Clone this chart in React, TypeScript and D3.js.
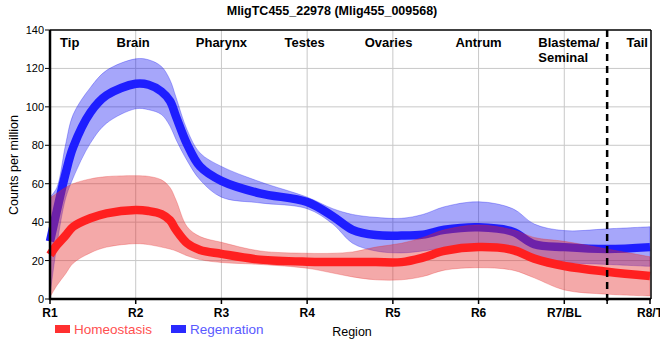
import React from "react";
import * as d3 from "d3";

const title = "MligTC455_22978 (Mlig455_009568)";
const tickLabels = ["R1", "R2", "R3", "R4", "R5", "R6", "R7/BL", "R8/T"];
const yTicks = [0, 20, 40, 60, 80, 100, 120, 140];
const regionNames = ["Tip", "Brain", "Pharynx", "Testes", "Ovaries", "Antrum", "Blastema/\nSeminal", "Tail"];
const regionPos = [0.23, 0.97, 2.0, 2.97, 3.95, 5.0, 5.72, 6.85];
const dividerPos = 6.5;

const pos = [0, 0.08, 0.18, 0.27, 0.47, 0.66, 1.0, 1.15, 1.3, 1.4, 1.47, 1.6, 1.75, 2.0, 2.45, 3.0, 3.3, 3.53, 3.8, 4.1, 4.35, 4.6, 5.0, 5.4, 5.65, 6.0, 6.5, 7.0];

const regenMean = [30, 46, 65, 79, 97, 106, 112, 111.5, 108, 103, 95, 80.5, 69, 61.5, 55, 50.5, 43, 36, 33.3, 33, 33.5, 36, 37.3, 35, 28.5, 27, 26, 27];
const regenUpper = [53, 58, 80, 96, 110, 119, 125, 124.5, 121, 114, 105, 88, 76, 69, 61, 53, 47, 44, 42.5, 42, 44, 48, 50.6, 47, 39, 35.6, 36.5, 37.6];
const regenLower = [2, 28, 52, 63, 81, 91.5, 99, 98.5, 96, 90, 83, 72, 62, 53, 50, 47, 39, 29, 25, 24, 25, 26.5, 27, 25, 21, 19, 18, 17];

const homeoMean = [23, 28, 33, 37.6, 42, 44.6, 46.3, 45.8, 44.2, 41, 36, 29, 25.5, 23.5, 20.5, 19.4, 19.3, 19.2, 19.2, 19.2, 21.5, 25, 27, 25.5, 21, 17.2, 14.2, 12];
const homeoUpper = [52.6, 55, 58, 60, 62.5, 63.7, 64.2, 63.8, 62, 58, 51.5, 37.6, 32.5, 29.5, 25, 23.8, 23.8, 24.5, 27, 29, 32, 36, 38.5, 36, 32, 30, 26, 22];
const homeoLower = [1, 7, 13, 18.6, 24, 27, 28.8, 28.3, 27, 26, 25, 22.5, 20.5, 19, 18, 16, 13.5, 11.5, 10, 10, 11.7, 15, 16.3, 15, 11, 4.7, 2.5, 1.6];

const legendItems = ["Homeostasis", "Regenration"];

const W = 660;
const H = 360;
const left = 50;
const right = 650;
const top = 30;
const bottom = 299;
const font = "'Liberation Sans', Arial, sans-serif";

export default function App() {
  const x = d3.scaleLinear().domain([0, 7]).range([left, right]);
  const y = d3.scaleLinear().domain([0, 140]).range([bottom, top]);
  const curve = d3.curveCatmullRom.alpha(0.5);

  const line = (vals: number[]) =>
    d3.line<number>().x((_, i) => x(pos[i])).y((v) => y(v)).curve(curve)(vals) || "";
  const band = (lo: number[], hi: number[]) =>
    d3
      .area<number>()
      .x((_, i) => x(pos[i]))
      .y0((_, i) => y(lo[i]))
      .y1((_, i) => y(hi[i]))
      .curve(curve)(pos) || "";

  return (
    <svg width={W} height={H} style={{ position: "absolute", left: 0, top: 0, background: "#fff" }} fontFamily={font}>
      <text x={332} y={15} textAnchor="middle" fontWeight="bold" fontSize={12.5}>
        {title}
      </text>
      {/* grid */}
      {yTicks.slice(1, -1).map((t) => (
        <line key={"gy" + t} x1={left} x2={right} y1={y(t)} y2={y(t)} stroke="#c8c8c8" strokeWidth={1} />
      ))}
      {tickLabels.slice(1, -1).map((_, i) => (
        <line key={"gx" + i} x1={x(i + 1)} x2={x(i + 1)} y1={top} y2={bottom} stroke="#c8c8c8" strokeWidth={1} />
      ))}
      {/* Regeneration */}
      <path d={band(regenLower, regenUpper)} fill="rgba(0,0,240,0.35)" stroke="rgba(0,0,240,0.35)" strokeWidth={0.8} />
      <path d={line(regenMean)} fill="none" stroke="#1e1eff" strokeWidth={8.5} />
      {/* Homeostasis */}
      <path d={band(homeoLower, homeoUpper)} fill="rgba(228,40,40,0.4)" stroke="rgba(228,40,40,0.35)" strokeWidth={0.8} />
      <path d={line(homeoMean)} fill="none" stroke="#ff2020" strokeWidth={8.5} />
      {/* divider */}
      <line x1={x(dividerPos)} x2={x(dividerPos)} y1={top} y2={bottom + 5} stroke="#000" strokeWidth={2.5} strokeDasharray="7,5" />
      {/* frame */}
      <line x1={left} x2={right + 1} y1={top} y2={top} stroke="#000" strokeWidth={1.5} />
      <line x1={right + 1} x2={right + 1} y1={top} y2={bottom} stroke="#000" strokeWidth={1.5} />
      <line x1={left} x2={left} y1={top} y2={bottom + 1} stroke="#000" strokeWidth={2.5} />
      <line x1={left - 1} x2={right + 1} y1={bottom} y2={bottom} stroke="#000" strokeWidth={2.5} />
      {/* y ticks */}
      {yTicks.map((t) => (
        <g key={"yt" + t}>
          <line x1={left - 5} x2={left} y1={y(t)} y2={y(t)} stroke="#000" strokeWidth={1} />
          <text x={left - 6} y={y(t) + 4} textAnchor="end" fontSize={11}>
            {t}
          </text>
        </g>
      ))}
      {/* x ticks */}
      {tickLabels.map((l, i) => (
        <g key={"xt" + i}>
          <line x1={x(i)} x2={x(i)} y1={bottom} y2={bottom + 5} stroke="#000" strokeWidth={1.5} />
          <text x={x(i)} y={317} textAnchor="middle" fontSize={12} fontWeight="bold">
            {l}
          </text>
        </g>
      ))}
      <line x1={x(dividerPos)} x2={x(dividerPos)} y1={bottom} y2={bottom + 5} stroke="#000" strokeWidth={1.5} />
      {/* region labels */}
      {regionNames.map((n, i) => {
        const lines = n.split("\n");
        const anchor = lines.length > 1 ? "start" : "middle";
        const px = lines.length > 1 ? x(regionPos[i]) - 2 : x(regionPos[i]);
        return (
          <text key={"r" + i} x={px} y={47} textAnchor={anchor} fontSize={13} fontWeight="bold">
            {lines.map((ln, j) => (
              <tspan key={j} x={px} dy={j === 0 ? 0 : 15}>
                {ln}
              </tspan>
            ))}
          </text>
        );
      })}
      {/* axis titles */}
      <text transform={`translate(18,165) rotate(-90)`} textAnchor="middle" fontSize={12.5}>
        Counts per million
      </text>
      <text x={352} y={336} textAnchor="middle" fontSize={12.5}>
        Region
      </text>
      {/* legend */}
      <rect x={55} y={325} width={15} height={8} fill="#ff3030" />
      <text x={74} y={334} fontSize={13.5} fill="#ff5050">
        {legendItems[0]}
      </text>
      <rect x={171} y={325} width={15} height={8} fill="#2a2aff" />
      <text x={190} y={334} fontSize={13.5} fill="#5a5aff">
        {legendItems[1]}
      </text>
    </svg>
  );
}
